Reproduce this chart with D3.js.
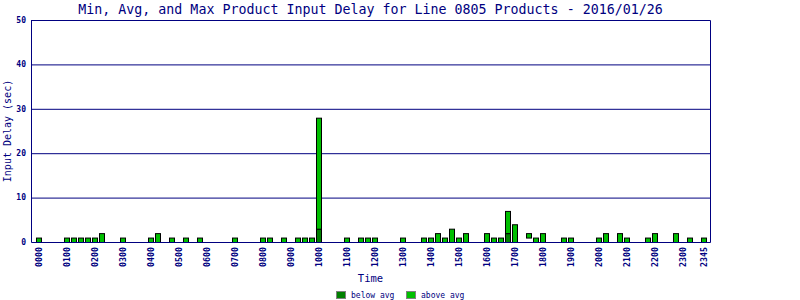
<!DOCTYPE html>
<html><head><meta charset="utf-8">
<script src="https://cdn.jsdelivr.net/npm/d3@7/dist/d3.min.js"></script>
<style>body{margin:0;background:#fff}</style>
</head><body><svg id="c" width="800" height="300"></svg>
<script>
const titleText = "Min, Avg, and Max Product Input Delay for Line 0805 Products - 2016/01/26";
const times = ["0000","0100","0115","0130","0145","0200","0215","0300","0400","0415","0445","0515","0545","0700","0800","0815","0845","0915","0930","0945","1000","1100","1130","1145","1200","1300","1345","1400","1415","1430","1445","1500","1515","1600","1615","1630","1645","1700","1730","1745","1800","1845","1900","2000","2015","2045","2100","2145","2200","2245","2315","2345"];
const mins  = [0,0,0,0,0,0,0,0,0,0,0,0,0,0,0,0,0,0,0,0,0,0,0,0,0,0,0,0,0,0,0,0,0,0,0,0,0,0,1,0,0,0,0,0,0,0,0,0,0,0,0,0];
const avgs  = [0,0,0,0,0,0,0,0,0,0,0,0,0,0,0,0,0,0,0,0,3,0,0,0,0,0,0,0,0,0,0,0,0,0,0,0,2,0,1,0,0,0,0,0,0,0,0,0,0,0,0,0];
const maxs  = [1,1,1,1,1,1,2,1,1,2,1,1,1,1,1,1,1,1,1,1,28,1,1,1,1,1,1,1,2,1,3,1,2,2,1,1,7,4,2,1,2,1,1,1,2,2,1,1,2,2,1,1];
const xTickLabels = ["0000","0100","0200","0300","0400","0500","0600","0700","0800","0900","1000","1100","1200","1300","1400","1500","1600","1700","1800","1900","2000","2100","2200","2300","2345"];
const yTicks = [0,10,20,30,40,50];
const legendLabels = ["below avg","above avg"];

// 15-minute slot categories
const slots = [];
for (let h = 0; h < 24; h++) for (let m = 0; m < 60; m += 15)
  slots.push(String(h).padStart(2,"0") + String(m).padStart(2,"0"));

const navy = "#000080", dark = "#008000", light = "#00BF00";
const font = "DejaVu Sans Mono, monospace";
const svg = d3.select("#c");
const L = 31, R = 710, T = 20, B = 242;

const x = d3.scaleBand().domain(slots).range([36, 708]).padding(0);
const y = d3.scaleLinear().domain([0, 50]).range([B, T]);

// grid
svg.append("g").selectAll("line").data(yTicks.slice(1)).join("line")
  .attr("x1", L).attr("x2", R).attr("y1", d => y(d) + 0.5).attr("y2", d => y(d) + 0.5)
  .attr("stroke", navy).attr("stroke-width", 1);

// y tick labels
svg.append("g").selectAll("text").data(yTicks).join("text")
  .attr("x", 26).attr("y", d => y(d)).attr("dy", "0.35em")
  .attr("text-anchor", "end").attr("font-family", font).attr("font-size", 8).attr("font-weight", "bold")
  .attr("fill", navy).text(d => d);

// bars
const data = times.map((t, i) => ({t, min: mins[i], avg: avgs[i], max: maxs[i]}));
const bw = x.bandwidth() - 1;
const g = svg.append("g");
data.forEach(d => {
  if (d.avg > d.min) {
    g.append("rect").attr("x", x(d.t) + 0.5).attr("y", y(d.avg) + 0.5)
      .attr("width", bw - 1).attr("height", y(d.min) - y(d.avg))
      .attr("fill", dark).attr("stroke", "#000").attr("stroke-width", 1);
  }
  g.append("rect").attr("x", x(d.t) + 0.5).attr("y", y(d.max) + 0.5)
    .attr("width", bw - 1).attr("height", y(d.avg) - y(d.max))
    .attr("fill", light).attr("stroke", "#000").attr("stroke-width", 1);
});

// frame
svg.append("path").attr("d", `M${L+0.5},${T+0.5}V${B+0.5}H${R+0.5}V${T+0.5}H${L+0.5}`)
  .attr("fill", "none").attr("stroke", navy).attr("stroke-width", 1);

// x tick labels
svg.append("g").selectAll("text").data(xTickLabels).join("text")
  .attr("transform", d => `translate(${x(d) + x.bandwidth()/2 - 0.5},247) rotate(-90)`)
  .attr("dy", "0.35em").attr("text-anchor", "end")
  .attr("font-family", font).attr("font-size", 8.3).attr("font-weight", "bold")
  .attr("fill", navy).text(d => d);

// title
svg.append("text").attr("x", (L + R) / 2).attr("y", 14).attr("text-anchor", "middle")
  .attr("font-family", font).attr("font-size", 13.3).attr("fill", navy).text(titleText);

// axis titles
svg.append("text").attr("x", (L + R) / 2).attr("y", 282).attr("text-anchor", "middle")
  .attr("font-family", font).attr("font-size", 10.5).attr("fill", navy).text("Time");
svg.append("text").attr("transform", `translate(11,${(T + B) / 2}) rotate(-90)`)
  .attr("text-anchor", "middle").attr("font-family", font).attr("font-size", 10)
  .attr("fill", navy).text("Input Delay (sec)");

// legend
const lg = svg.append("g");
const lx = [336, 406];
legendLabels.forEach((lab, i) => {
  lg.append("rect").attr("x", lx[i] + 0.5).attr("y", 291.5).attr("width", 9).attr("height", 7)
    .attr("fill", i === 0 ? dark : light).attr("stroke", "#808080");
  lg.append("text").attr("x", lx[i] + 15).attr("y", 295).attr("dy", "0.35em")
    .attr("font-family", font).attr("font-size", 8)
    .attr("fill", navy).text(lab);
});
</script></body></html>
